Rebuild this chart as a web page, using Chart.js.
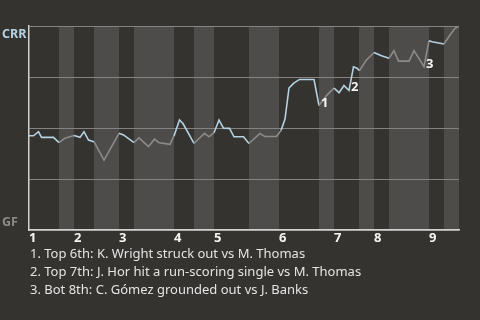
<!DOCTYPE html>
<html>
<head>
<meta charset="utf-8">
<script src="https://cdn.jsdelivr.net/npm/chart.js@4"></script>
<style>
    html, body { margin: 0; padding: 0; background: #353330; }
    #wrap { position: relative; width: 480px; height: 320px; overflow: hidden; }
    #chart { position: absolute; left: 0; top: 0; }
    #notes {
        position: absolute; left: 30px; top: 244px;
        font: 13px "Noto Sans", sans-serif; line-height: 18px; color: #e4e4e4;
    }
</style>
</head>
<body>
<div id="wrap">
    <canvas id="chart" width="480" height="245"></canvas>
    <div id="notes"></div>
</div>
<script>
// --- Data ---
// half-inning boundaries, in plate appearances (top 1st, bot 1st, top 2nd ...)
const halfInningStarts = [0, 6, 9, 13, 18, 21, 29, 33, 37, 44, 50, 58, 61, 66, 69, 72, 80, 83, 86];
const inningStarts = [0, 9, 18, 29, 37, 50, 61, 69, 80];
const inningLabels = ['1', '2', '3', '4', '5', '6', '7', '8', '9'];

const playIndex = [0, 0.9, 1.9, 2.5, 4.9, 6, 7.2, 9, 10.2, 11,
    11.9, 13, 15, 18, 18.9, 21, 22, 23.9, 25.1, 26,
    28.2, 29, 30.1, 30.8, 33, 33.9, 35.1, 36, 37, 38,
    38.9, 40.1, 41, 42.9, 44, 46.2, 47.2, 49.5, 50.4, 51.2,
    52, 52.9, 54.1, 57, 58, 59.5, 61, 62, 63, 64,
    64.9, 65.6, 66.1, 67.4, 69, 70.5, 72, 73, 73.9, 76,
    77, 79, 80, 80.6, 83, 84.2, 85.2, 86];
const crrWinPct = [46.2, 46.2, 48.2, 45.4, 45.4, 42.8, 45.0, 46.3, 45.4, 48.2,
    44.1, 43.3, 34.3, 47.4, 46.6, 42.8, 45.2, 40.9, 44.5, 42.8,
    42.0, 46.1, 53.9, 52.2, 42.5, 44.6, 47.4, 45.7, 47.7, 53.9,
    49.9, 49.8, 45.7, 45.7, 42.4, 47.3, 45.8, 45.8, 48.8, 54.4,
    69.6, 71.9, 73.8, 73.8, 61.0, 65.9, 69.6, 67.3, 70.8, 68.4,
    80.0, 79.3, 78.1, 83.1, 87.0, 85.4, 84.2, 87.9, 82.8, 82.8,
    87.9, 80.1, 92.8, 92.3, 91.2, 95.6, 98.9, 100];

const notePlays = [58, 64, 79];
const noteTexts = [
    '1. Top 6th: K. Wright struck out vs M. Thomas',
    '2. Top 7th: J. Hor hit a run-scoring single vs M. Thomas',
    '3. Bot 8th: C. Gómez grounded out vs J. Banks'
];

// --- Colours ---
const BG = '#353330';
const BAND = '#4e4c4a';
const BLUE = '#b4d2e2';
const GRAY = '#8c8b89';

function isTopHalf(x) {
    for (let i = 0; i < halfInningStarts.length - 1; i++) {
        if (x >= halfInningStarts[i] && x < halfInningStarts[i + 1]) return i % 2 === 0;
    }
    return false;
}

// bottom halves get the lighter band, plus the team labels on the left
const bandsPlugin = {
    id: 'bands',
    beforeDraw(chart) {
        const {ctx, chartArea: a, scales: {x}} = chart;
        ctx.save();
        ctx.fillStyle = BG;
        ctx.fillRect(0, 0, chart.width, chart.height);
        ctx.fillStyle = BAND;
        for (let i = 1; i < halfInningStarts.length - 1; i += 2) {
            const x0 = x.getPixelForValue(halfInningStarts[i]);
            const x1 = x.getPixelForValue(halfInningStarts[i + 1]);
            ctx.fillRect(x0, a.top, x1 - x0, a.bottom - a.top);
        }
        ctx.font = 'bold 12.5px "Noto Sans", sans-serif';
        ctx.textAlign = 'left';
        ctx.textBaseline = 'alphabetic';
        ctx.fillStyle = BLUE;
        ctx.fillText('CRR', 2, a.top + 11.5);
        ctx.fillStyle = GRAY;
        ctx.fillText('GF', 2, a.bottom - 4);
        ctx.restore();
    }
};

const notesPlugin = {
    id: 'notes',
    afterDatasetsDraw(chart) {
        const {ctx, scales: {x, y}} = chart;
        ctx.save();
        ctx.font = 'bold 13px "Noto Sans", sans-serif';
        ctx.fillStyle = '#f4f4f4';
        ctx.textAlign = 'left';
        ctx.textBaseline = 'alphabetic';
        notePlays.forEach((play, i) => {
            const k = playIndex.indexOf(play);
            ctx.fillText(String(i + 1), x.getPixelForValue(play) + 2, y.getPixelForValue(crrWinPct[k]) + 1);
        });
        ctx.restore();
    }
};

new Chart(document.getElementById('chart'), {
    type: 'line',
    data: {
        datasets: [{
            data: playIndex.map((v, i) => ({x: v, y: crrWinPct[i]})),
            borderWidth: 1.6,
            pointRadius: 0,
            tension: 0,
            borderColor: BLUE,
            segment: {
                borderColor: c => isTopHalf(c.p0.parsed.x) ? BLUE : GRAY
            }
        }]
    },
    options: {
        responsive: false,
        animation: false,
        devicePixelRatio: 1,
        layout: {padding: {left: 0, right: 21, top: 26, bottom: 0}},
        plugins: {legend: {display: false}, tooltip: {enabled: false}},
        scales: {
            x: {
                type: 'linear',
                min: 0,
                max: 86,
                afterBuildTicks: s => { s.ticks = inningStarts.map(v => ({value: v})); },
                afterFit: s => { s.height = 15; },
                grid: {display: false, drawTicks: false},
                border: {display: true, color: '#d2d2d2', width: 1.5},
                ticks: {
                    align: 'start',
                    autoSkip: false,
                    maxRotation: 0,
                    padding: 0,
                    color: '#f4f4f4',
                    font: {family: '"Noto Sans", sans-serif', size: 13, weight: 'bold'},
                    callback: v => inningLabels[inningStarts.indexOf(v)]
                }
            },
            y: {
                min: 0,
                max: 100,
                afterBuildTicks: s => { s.ticks = [0, 25, 50, 75, 100].map(v => ({value: v})); },
                afterFit: s => { s.width = 29; },
                grid: {color: '#858381', lineWidth: 1, drawTicks: false},
                border: {display: true, color: '#d2d2d2', width: 1.5},
                ticks: {display: false}
            }
        }
    },
    plugins: [bandsPlugin, notesPlugin]
});

document.getElementById('notes').innerHTML = noteTexts.map(t => `<div>${t}</div>`).join('');
</script>
</body>
</html>
